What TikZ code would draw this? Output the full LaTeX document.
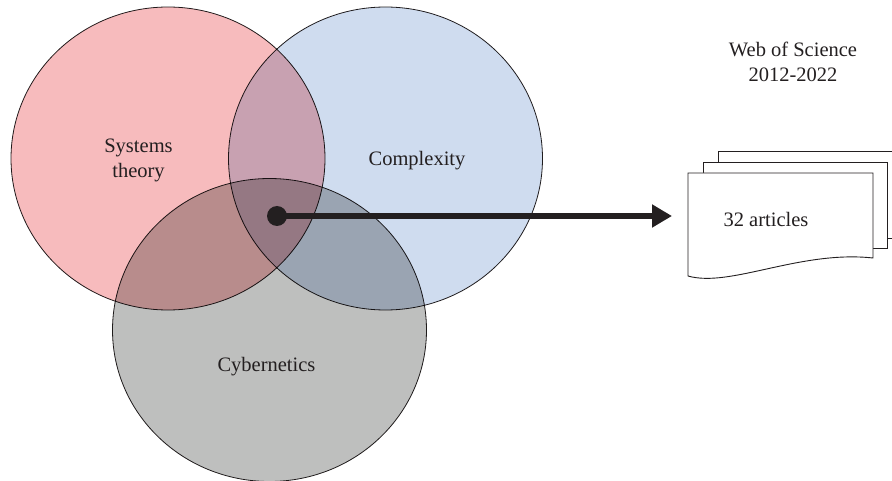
\documentclass[tikz,border=0pt]{standalone}
\usepackage{fontspec}
\setmainfont{Liberation Serif}
\usetikzlibrary{arrows.meta,shapes.geometric}
\definecolor{ink}{HTML}{231F20}
\definecolor{stred}{HTML}{F7BBBD}
\definecolor{cxblue}{HTML}{CFDCEF}
\definecolor{cygray}{HTML}{BEBFBE}
\tikzset{venn/.style={ellipse,draw=ink,line width=0.8pt,minimum width=314pt,minimum height=303pt,inner sep=0pt},
  sheet/.style={draw=ink,line width=0.9pt,fill=white}}

\begin{document}
\begin{tikzpicture}[x=1pt,y=-1pt,font=\fontsize{20.5}{25}\selectfont,text=ink]
\useasboundingbox (0,0) rectangle (892,481);
% the three fields
\begin{scope}[blend group=multiply]
\node (st) [venn,fill=stred] at (168,158.5) {};
\node (cx) [venn,fill=cxblue] at (385.5,158.5) {};
\node (cy) [venn,fill=cygray] at (269.5,330) {};
\end{scope}
\node (stl) [align=center] at (138.5,160) {Systems\\theory};
\node (cxl) at (417,161) {Complexity};
\node (cyl) at (266.5,367) {Cybernetics};
%
\draw[sheet] (718,238) -- (718,151) -- (902,151) -- (902,238) -- cycle;
\draw[sheet] (703,248) -- (703,162) -- (887,162) -- (887,248) -- cycle;
\draw[sheet] (688,276) -- (688,173) -- (873,173) -- (873,258) .. controls (800,250) and (730,288) .. (688,276) -- cycle;
\node (doc) at (766,219) {32 articles};
\node (wos) [align=center] at (793,62) {Web of Science\\2012-2022};
%
\node (dot) [circle,fill=ink,inner sep=0pt,minimum size=20pt] at (277,216) {};
\coordinate (docin) at (672,216);
\draw[ink,line width=6.5pt,-{Triangle[length=20pt,width=22pt]}] (dot.center) -- (docin);
\end{tikzpicture}
\end{document}
